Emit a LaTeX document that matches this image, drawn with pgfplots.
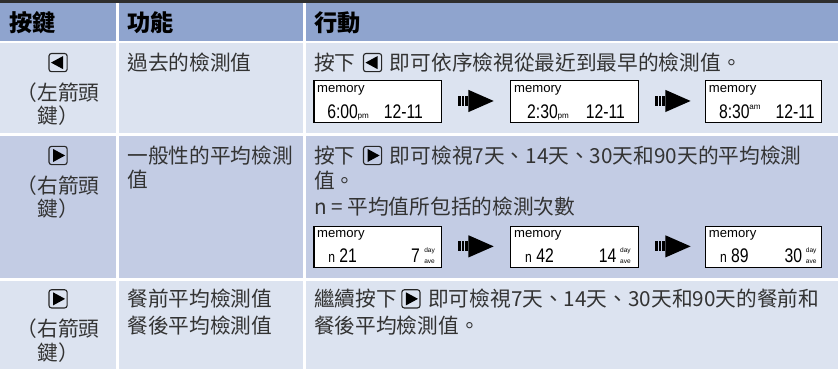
\documentclass[border=0pt]{standalone}
\usepackage{fontspec}
\setmainfont{Noto Sans CJK TC}
\newfontfamily\lcd{Liberation Sans}
\usepackage{pgfplots}
\pgfplotsset{compat=1.18}
\definecolor{hdr}{HTML}{8FA4CE}
\definecolor{lite}{HTML}{DCE3F0}
\definecolor{mid}{HTML}{C3CCE4}
\definecolor{txt}{HTML}{333333}
\definecolor{rule}{HTML}{2E2E2E}
\tikzset{
  t/.style={anchor=base west, inner sep=0, text=txt, font=\fontsize{20.5}{24}\selectfont},
  tc/.style={anchor=base, inner sep=0, text=txt, font=\fontsize{20.5}{24}\selectfont},
  h/.style={anchor=base west, inner sep=0, text=black, font=\fontsize{23}{26}\selectfont\bfseries},
  mem/.style={anchor=base west, inner sep=0, font=\lcd\fontsize{13}{14}\selectfont},
  dig/.style={anchor=base west, inner sep=0, font=\lcd\fontsize{19.5}{20}\selectfont},
  sm/.style={anchor=base west, inner sep=0, font=\lcd\fontsize{8}{9}\selectfont},
  da/.style={anchor=base west, inner sep=0, font=\lcd\fontsize{6.5}{7}\selectfont},
  nn/.style={anchor=base west, inner sep=0, font=\lcd\fontsize{15}{16}\selectfont},
}
\newcommand\cell[5]{\addplot[fill=#5,draw=none] coordinates {(#1,#2) (#3,#2) (#3,#4) (#1,#4)} --cycle;}
\newcommand\keyR[2]{%
  \draw[line width=1.1pt, rounded corners=2.5pt, draw=black!85] (#1-9,#2-9) rectangle (#1+9,#2+9);
  \fill[black] (#1-5,#2-6.5) -- (#1+7,#2) -- (#1-5,#2+6.5) -- cycle;}
\newcommand\keyL[2]{%
  \draw[line width=1.1pt, rounded corners=2.5pt, draw=black!85] (#1-9,#2-9) rectangle (#1+9,#2+9);
  \fill[black] (#1+5,#2-6.5) -- (#1-7,#2) -- (#1+5,#2+6.5) -- cycle;}
\newcommand\arr[2]{%
  \fill[black] (#1,#2-5) rectangle (#1+2.5,#2+5);
  \fill[black] (#1+3.5,#2-5) rectangle (#1+6,#2+5);
  \fill[black] (#1+7,#2-5) rectangle (#1+10,#2+5);
  \fill[black] (#1+10,#2-11) -- (#1+35,#2) -- (#1+10,#2+11) -- cycle;}
\newcommand\lcdbox[4]{%
  \draw[line width=1.1pt, fill=white] (#1,#2) rectangle (#3,#4);
  \node[mem] at (#1+3,#2+11.5) {memory};}
\newcommand\dg[3]{\node[dig] at (#1,#2) {\scalebox{0.8}[1]{#3}};}
\newcommand\dayave[2]{\node[da] at (#1,#2-10.5) {day};\node[da] at (#1,#2) {ave};}
\begin{document}
\begin{tikzpicture}
\begin{axis}[width=838pt, height=373pt, scale only axis, xmin=0, xmax=838, ymin=0, ymax=373,
  y dir=reverse, axis lines=none, ticks=none, clip=false]
% backgrounds
\cell{8}{8}{838}{11}{rule}
\cell{8}{11}{123}{48.5}{hdr}
\cell{126}{11}{308}{48.5}{hdr}
\cell{311}{11}{838}{48.5}{hdr}
\cell{8}{51}{123}{140}{lite}
\cell{126}{51}{308}{140}{lite}
\cell{311}{51}{838}{140}{lite}
\cell{8}{143}{123}{283}{mid}
\cell{126}{143}{308}{283}{mid}
\cell{311}{143}{838}{283}{mid}
\cell{8}{286}{123}{373}{lite}
\cell{126}{286}{308}{373}{lite}
\cell{311}{286}{838}{373}{lite}
% header
\node[h] at (17,38.7) {按鍵};
\node[h] at (134,38.7) {功能};
\node[h] at (319,38.7) {行動};
% row 1
\keyL{65.5}{70}
\node[tc] at (65.5,107.8) {（左箭頭};
\node[tc] at (65.5,130.8) {鍵）};
\node[t] at (134,77.8) {過去的檢測值};
\node[t] at (319,77.8) {按下};
\keyL{377}{70}
\node[t] at (394,77.8) {即可依序檢視從最近到最早的檢測值。};
\lcdbox{319}{88}{445}{129}
\dg{332}{125}{6:00}\node[sm] at (362,125) {pm};\dg{388}{125}{12-11}
\arr{462}{108}
\lcdbox{514}{88}{640}{129}
\dg{530}{125}{2:30}\node[sm] at (560,125) {pm};\dg{588}{125}{12-11}
\arr{657}{108}
\lcdbox{707}{88}{822}{129}
\dg{720}{125}{8:30}\node[sm] at (750,116) {am};\dg{776}{125}{12-11}
% row 2
\keyR{65.5}{162}
\node[tc] at (65.5,199.8) {（右箭頭};
\node[tc] at (65.5,222.8) {鍵）};
\node[t] at (134,169.8) {一般性的平均檢測};
\node[t] at (134,193.8) {值};
\node[t] at (319,169.8) {按下};
\keyR{377}{162}
\node[t] at (394,169.8) {即可檢視7天、14天、30天和90天的平均檢測};
\node[t] at (319,194.8) {值。};
\node[t] at (319,220.8) {n = 平均值所包括的檢測次數};
\lcdbox{319}{232}{445}{273}
\node[nn] at (333,268) {\scalebox{0.8}[1]{n}};\dg{344}{268}{21}
\dg{415}{268}{7}\dayave{428}{269}
\arr{462}{252}
\lcdbox{514}{232}{640}{273}
\node[nn] at (528,268) {\scalebox{0.8}[1]{n}};\dg{539}{268}{42}
\dg{601}{268}{14}\dayave{622}{269}
\arr{657}{252}
\lcdbox{707}{232}{822}{273}
\node[nn] at (721,268) {\scalebox{0.8}[1]{n}};\dg{732}{268}{89}
\dg{785}{268}{30}\dayave{806}{269}
% row 3
\keyR{65.5}{304}
\node[tc] at (65.5,340.8) {（右箭頭};
\node[tc] at (65.5,364.8) {鍵）};
\node[t] at (134,311.8) {餐前平均檢測值};
\node[t] at (134,338.8) {餐後平均檢測值};
\node[t] at (319,311.8) {繼續按下};
\keyR{415}{304}
\node[t] at (432,311.8) {即可檢視7天、14天、30天和90天的餐前和};
\node[t] at (319,338.8) {餐後平均檢測值。};
\end{axis}
\end{tikzpicture}
\end{document}
